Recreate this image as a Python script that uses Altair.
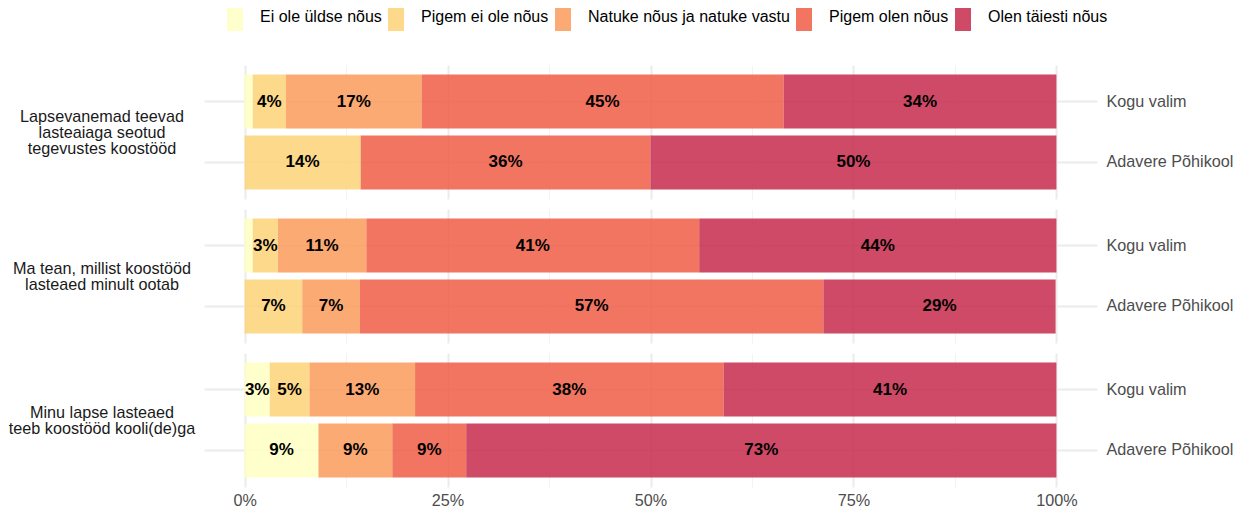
import altair as alt
import pandas as pd

questions = [
    "Lapsevanemad teevad\nlasteaiaga seotud\ntegevustes koostööd",
    "Ma tean, millist koostööd\nlasteaed minult ootab",
    "Minu lapse lasteaed\nteeb koostööd kooli(de)ga",
]
groups = ["Kogu valim", "Adavere Põhikool"]
categories = [
    "Ei ole üldse nõus",
    "Pigem ei ole nõus",
    "Natuke nõus ja natuke vastu",
    "Pigem olen nõus",
    "Olen täiesti nõus",
]
colors = ["#FFFFC3", "#FDD278", "#FA9B5C", "#F05D46", "#C62A4B"]

# percentages per question, per group, per category
q1_kogu = [1.0, 4.1, 16.7, 44.6, 33.6]
q1_adavere = [0.0, 14.3, 0.0, 35.7, 50.0]
q2_kogu = [1.0, 3.1, 10.9, 41.0, 44.0]
q2_adavere = [0.0, 7.1, 7.1, 57.1, 28.6]
q3_kogu = [3.1, 4.9, 13.0, 38.0, 41.0]
q3_adavere = [9.1, 0.0, 9.1, 9.1, 72.7]

series = [
    (questions[0], groups[0], q1_kogu),
    (questions[0], groups[1], q1_adavere),
    (questions[1], groups[0], q2_kogu),
    (questions[1], groups[1], q2_adavere),
    (questions[2], groups[0], q3_kogu),
    (questions[2], groups[1], q3_adavere),
]

rows = []
for q, g, vals in series:
    for i, (c, v) in enumerate(zip(categories, vals)):
        rows.append({"question": q, "group": g, "category": c, "order": i, "value": v})
df = pd.DataFrame(rows)

FONT = "Liberation Sans"
FS = 16.2
W, H = 893, 134
LINE = 16  # line height of the question labels

x_scale = alt.Scale(domain=[-5, 105], nice=False, zero=False)
grid_vals = [0, 12.5, 25, 37.5, 50, 62.5, 75, 87.5, 100]

base = alt.Chart(df).transform_stack(
    stack="value", groupby=["question", "group"], as_=["x0", "x1"],
    sort=[alt.SortField("order", order="ascending")],
).transform_calculate(mid="(datum.x0 + datum.x1) / 2")

bars = base.mark_bar(opacity=0.85).encode(
    x=alt.X(
        "x0:Q", scale=x_scale, title=None,
        axis=alt.Axis(
            values=grid_vals,
            labelExpr="datum.value % 25 == 0 ? datum.value + '%' : ''",
            grid=True,
            gridColor={"condition": {"test": "datum.value % 25 == 0", "value": "#EBEBEB"}, "value": "#F3F3F3"},
            gridWidth={"condition": {"test": "datum.value % 25 == 0", "value": 2}, "value": 1},
            ticks=False, domain=False,
            labelColor="#4D4D4D", labelFontSize=FS, labelFont=FONT, labelPadding=5,
        ),
    ),
    x2="x1:Q",
    y=alt.Y(
        "group:N", sort=groups, title=None,
        scale=alt.Scale(paddingInner=0.115, paddingOuter=0.156),
        axis=alt.Axis(
            orient="right", grid=True, gridColor="#EBEBEB", gridWidth=2,
            ticks=False, domain=False, labelColor="#4D4D4D", labelFontSize=FS,
            labelFont=FONT, labelPadding=9,
        ),
    ),
    color=alt.Color(
        "category:N", sort=categories,
        scale=alt.Scale(domain=categories, range=colors),
        legend=alt.Legend(
            title=None, orient="none", legendX=17, legendY=-62,
            direction="horizontal",
            symbolType="M-0.57,-1H0.57V1H-0.57Z", symbolSize=784,
            symbolStrokeWidth=0, labelFontSize=16, labelFont=FONT,
            labelColor="#000000", columnPadding=-8, labelOffset=11, labelLimit=400,
        ),
    ),
)

text = base.transform_filter("datum.value >= 2").transform_calculate(
    lbl="format(datum.value, '.0f') + '%'"
).mark_text(
    font=FONT, fontWeight="bold", fontSize=17, color="#000000"
).encode(
    x=alt.X("mid:Q", scale=x_scale),
    y=alt.Y("group:N", sort=groups),
    text="lbl:N",
)

# question labels on the left: one text per line, block centred on the panel
qlabel = alt.Chart(df).transform_filter(
    "datum.order == 0 && datum.group == 'Kogu valim'"
).transform_calculate(
    lines="split(datum.question, '\\n')"
).transform_flatten(["lines"]).transform_window(
    idx="row_number()", groupby=["question"]
).transform_joinaggregate(
    n="count()", groupby=["question"]
).transform_calculate(
    ypos=f"{H / 2 + 1} + {LINE} * (datum.idx - (datum.n + 1) / 2)"
).mark_text(
    align="center", baseline="middle", font=FONT, fontSize=FS, color="#1A1A1A"
).encode(
    x=alt.value(-102),
    y=alt.Y("ypos:Q", scale=None, axis=None),
    text="lines:N",
)

chart = alt.layer(bars, text, qlabel).properties(
    width=W, height=H
).facet(
    row=alt.Row("question:N", sort=questions, title=None, header=alt.Header(labels=False)),
    spacing=10,
    bounds="flush",
).properties(
    padding={"left": 0, "top": -5, "right": 0, "bottom": 0}
).configure_view(stroke=None)

chart.save("out.html", embed_options={"renderer": "svg", "actions": False})
